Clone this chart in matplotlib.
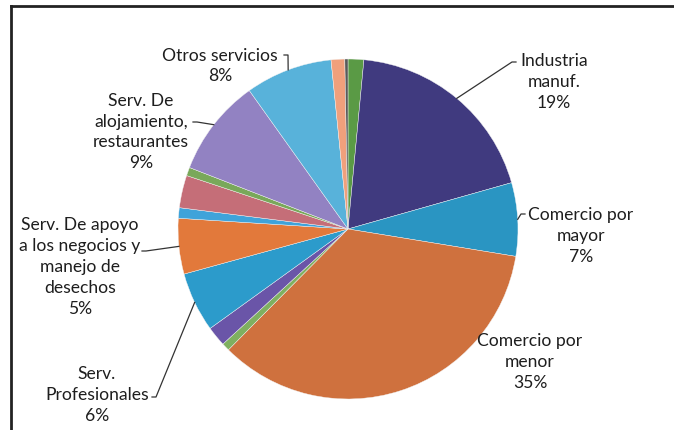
import numpy as np
import matplotlib
matplotlib.use("Agg")
import matplotlib.pyplot as plt
from matplotlib.lines import Line2D

# slice data (clockwise from 12 o'clock, as in the original Excel chart)
shares = [1.5, 19.2, 7.0, 35.0, 0.75, 1.9, 5.7, 5.3, 1.0, 3.1, 0.8, 9.3, 8.3, 1.3, 0.3]
colours = ["#5A9A45", "#403A7F", "#2A95C2", "#CF713E", "#7FB060", "#6A55A8",
           "#2C9BCB", "#E2793B", "#3FA3DA", "#C56E78", "#79A85A", "#9282C2",
           "#58B2DA", "#F0A07C", "#5A5A5A"]

# labelled slices: index -> (text, label centre in px from top-left, leader start px)
labels = {
    1: ("Industria\nmanuf.\n19%", (554, 82), (516, 62)),
    2: ("Comercio por\nmayor\n7%", (581, 236), (525, 214)),
    3: ("Comercio por\nmenor\n35%", (530, 362), None),
    6: ("Serv.\nProfesionales\n6%", (97, 395), (152, 397)),
    7: ("Serv. De apoyo\na los negocios y\nmanejo de\ndesechos\n5%", (80, 267), (142, 251)),
    11: ("Serv. De\nalojamiento,\nrestaurantes\n9%", (141, 132), (193, 122)),
    12: ("Otros servicios\n8%", (220, 66), (284, 55)),
}

W, H = 674, 430
fig = plt.figure(figsize=(W / 100, H / 100), dpi=100)
ax = fig.add_axes([0, 0, 1, 1])

cx, cy, R = 348, 229, 170
wedges, _ = ax.pie(shares, colors=colours, startangle=90, counterclock=False,
                   center=(cx, H - cy), radius=R, frame=True,
                   wedgeprops=dict(edgecolor="#f4f4f4", linewidth=0.3))
ax.set_xlim(0, W)
ax.set_ylim(0, H)
ax.set_aspect("equal")
ax.axis("off")

font = dict(family="Lato", fontsize=12.6, color="#1e1e1e")
for i, (txt, (tx, ty), lead) in labels.items():
    w = wedges[i]
    mid = np.deg2rad((w.theta1 + w.theta2) / 2)
    ex, ey = cx + R * np.cos(mid), (H - cy) + R * np.sin(mid)
    ax.text(tx, H - ty, txt, ha="center", va="center", linespacing=1.38, **font)
    if lead is not None:
        lx, ly = lead
        ax.plot([lx, lx + (4 if lx < ex else -4), ex], [H - ly, H - ly, ey],
                color="#333333", lw=0.9)

# chart frame (only top and left edges are visible in the scan)
fig.add_artist(Line2D([11 / W, 1], [1 - 6 / H, 1 - 6 / H], color="#222222", lw=2))
fig.add_artist(Line2D([11 / W, 11 / W], [0, 1 - 6 / H], color="#222222", lw=2))

fig.savefig("out.png", dpi=100)
